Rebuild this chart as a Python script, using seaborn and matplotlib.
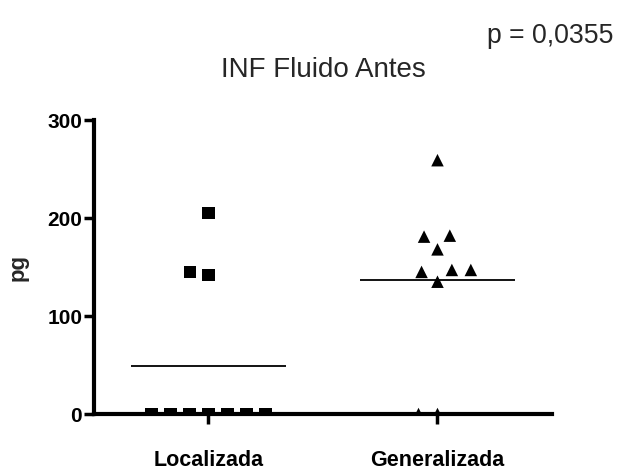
import numpy as np
import pandas as pd
import matplotlib
matplotlib.use("Agg")
import matplotlib.pyplot as plt
import seaborn as sns

# Values per group (pg)
groups = ["Localizada", "Generalizada"]
localizada = [0, 0, 0, 0, 0, 0, 0, 142, 145, 205]
generalizada = [0, 0, 135, 145, 147, 147, 168, 181, 182, 259]
markers = ["s", "^"]
y_ticks = [0, 100, 200, 300]
title = "INF Fluido Antes"
p_label = "p = 0,0355"
y_label = "pg"

sns.set_theme(style="ticks")
plt.rcParams["font.family"] = ["Liberation Sans", "DejaVu Sans"]

df = pd.DataFrame({
    "grupo": np.repeat(groups, [len(localizada), len(generalizada)]),
    "valor": localizada + generalizada,
})

fig = plt.figure(figsize=(6.24, 4.73), dpi=100)
ax = fig.add_axes([0.1506, 0.1247, 0.7340, 0.6216])

for g, m in zip(groups, markers):
    sns.swarmplot(data=df[df["grupo"] == g], x="grupo", y="valor", order=groups,
                  marker=m, color="black", size=9, linewidth=4.0,
                  edgecolor="none", ax=ax)

# group means
for i, vals in enumerate([localizada, generalizada]):
    ax.hlines(np.mean(vals), i - 0.34, i + 0.34, color="black", lw=1.3, zorder=2)

ax.set_xlim(-0.5, 1.5)
ax.set_ylim(0, 300)
ax.set_yticks(y_ticks)
ax.set_xlabel("")
ax.set_ylabel(y_label, fontsize=16, fontweight="bold")
ax.yaxis.set_label_coords(-0.142, 0.5)

sns.despine(ax=ax)
for side in ["left", "bottom"]:
    ax.spines[side].set_linewidth(3)
    ax.spines[side].set_color("black")
ax.tick_params(axis="both", length=7, width=2.5, color="black", labelcolor="black")
ax.tick_params(axis="y", pad=1.5, labelsize=15)
ax.tick_params(axis="x", pad=19, labelsize=15.5)
for lbl in ax.get_xticklabels() + ax.get_yticklabels():
    lbl.set_fontweight("bold")

fig.text(0.518, 0.837, title, ha="center", va="baseline", fontsize=20)
fig.text(0.780, 0.909, p_label, ha="left", va="baseline", fontsize=19.2)

fig.savefig("out.png", dpi=100, facecolor="white")
